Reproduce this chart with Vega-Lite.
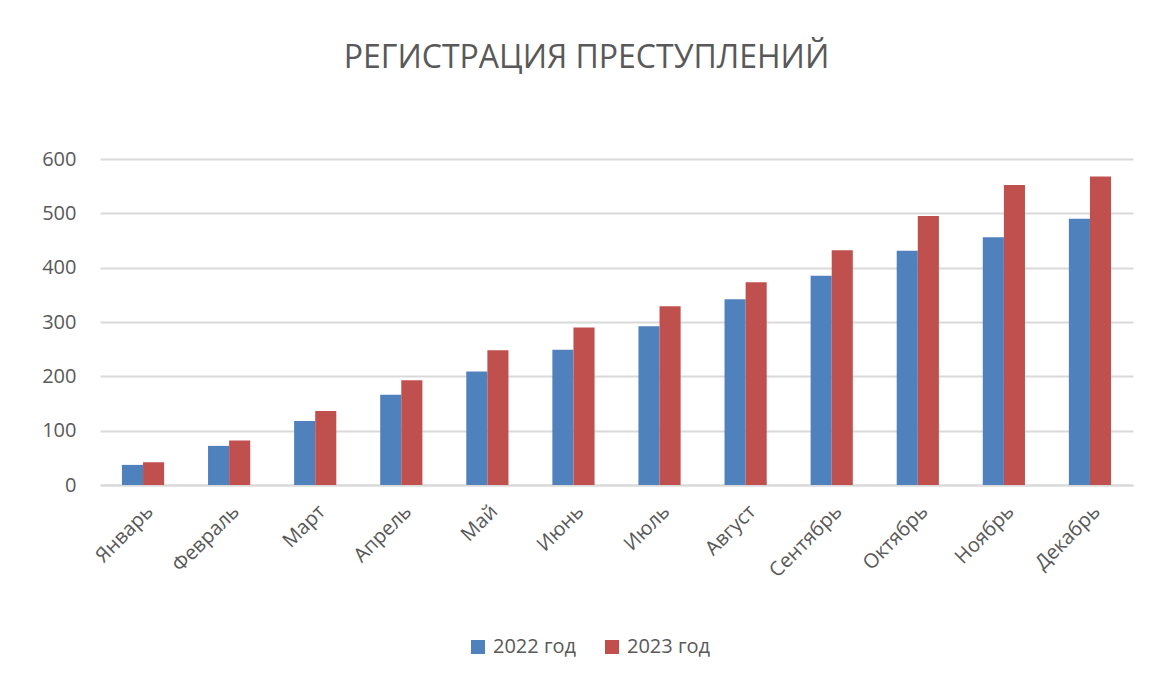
{
  "$schema": "https://vega.github.io/schema/vega-lite/v6.json",
  "width": 1033,
  "height": 326,
  "autosize": {"type": "none"},
  "padding": {"left": 100, "top": 159, "right": 17, "bottom": 194},
  "background": "white",
  "title": {
    "text": "РЕГИСТРАЦИЯ ПРЕСТУПЛЕНИЙ",
    "font": "Open Sans",
    "fontSize": 32,
    "fontWeight": "normal",
    "color": "#595959",
    "anchor": "middle",
    "frame": "group",
    "dx": -30,
    "offset": 74
  },
  "config": {
    "view": {"stroke": null},
    "font": "Open Sans"
  },
  "data": {
    "values": [
      {"month": "Январь", "year": "2022 год", "value": 37},
      {"month": "Январь", "year": "2023 год", "value": 42},
      {"month": "Февраль", "year": "2022 год", "value": 72},
      {"month": "Февраль", "year": "2023 год", "value": 82},
      {"month": "Март", "year": "2022 год", "value": 118},
      {"month": "Март", "year": "2023 год", "value": 136},
      {"month": "Апрель", "year": "2022 год", "value": 166},
      {"month": "Апрель", "year": "2023 год", "value": 193},
      {"month": "Май", "year": "2022 год", "value": 209},
      {"month": "Май", "year": "2023 год", "value": 248},
      {"month": "Июнь", "year": "2022 год", "value": 249},
      {"month": "Июнь", "year": "2023 год", "value": 290},
      {"month": "Июль", "year": "2022 год", "value": 292},
      {"month": "Июль", "year": "2023 год", "value": 329},
      {"month": "Август", "year": "2022 год", "value": 342},
      {"month": "Август", "year": "2023 год", "value": 373},
      {"month": "Сентябрь", "year": "2022 год", "value": 385},
      {"month": "Сентябрь", "year": "2023 год", "value": 432},
      {"month": "Октябрь", "year": "2022 год", "value": 431},
      {"month": "Октябрь", "year": "2023 год", "value": 495},
      {"month": "Ноябрь", "year": "2022 год", "value": 456},
      {"month": "Ноябрь", "year": "2023 год", "value": 552},
      {"month": "Декабрь", "year": "2022 год", "value": 490},
      {"month": "Декабрь", "year": "2023 год", "value": 568}
    ]
  },
  "mark": {"type": "bar"},
  "encoding": {
    "x": {
      "field": "month",
      "type": "nominal",
      "sort": null,
      "scale": {"paddingInner": 0.51, "paddingOuter": 0.255},
      "axis": {
        "title": null,
        "labelAngle": -45,
        "labelFontSize": 20,
        "labelColor": "#595959",
        "labelPadding": 16,
        "ticks": false,
        "domainColor": "#D9D9D9",
        "domainWidth": 2,
        "grid": false
      }
    },
    "xOffset": {"field": "year", "type": "nominal"},
    "y": {
      "field": "value",
      "type": "quantitative",
      "scale": {"domain": [0, 600]},
      "axis": {
        "title": null,
        "values": [0, 100, 200, 300, 400, 500, 600],
        "labelFontSize": 20,
        "labelColor": "#595959",
        "labelPadding": 24,
        "ticks": false,
        "domain": false,
        "gridColor": "#D9D9D9",
        "gridWidth": 2
      }
    },
    "color": {
      "field": "year",
      "type": "nominal",
      "scale": {"range": ["#4F81BD", "#C0504D"]},
      "legend": {
        "title": null,
        "orient": "none",
        "legendX": 368,
        "legendY": 478,
        "direction": "horizontal",
        "symbolType": "square",
        "symbolSize": 196,
        "symbolStrokeWidth": 0,
        "labelFontSize": 20,
        "labelColor": "#595959",
        "labelOffset": 5,
        "columnPadding": 25
      }
    }
  }
}
